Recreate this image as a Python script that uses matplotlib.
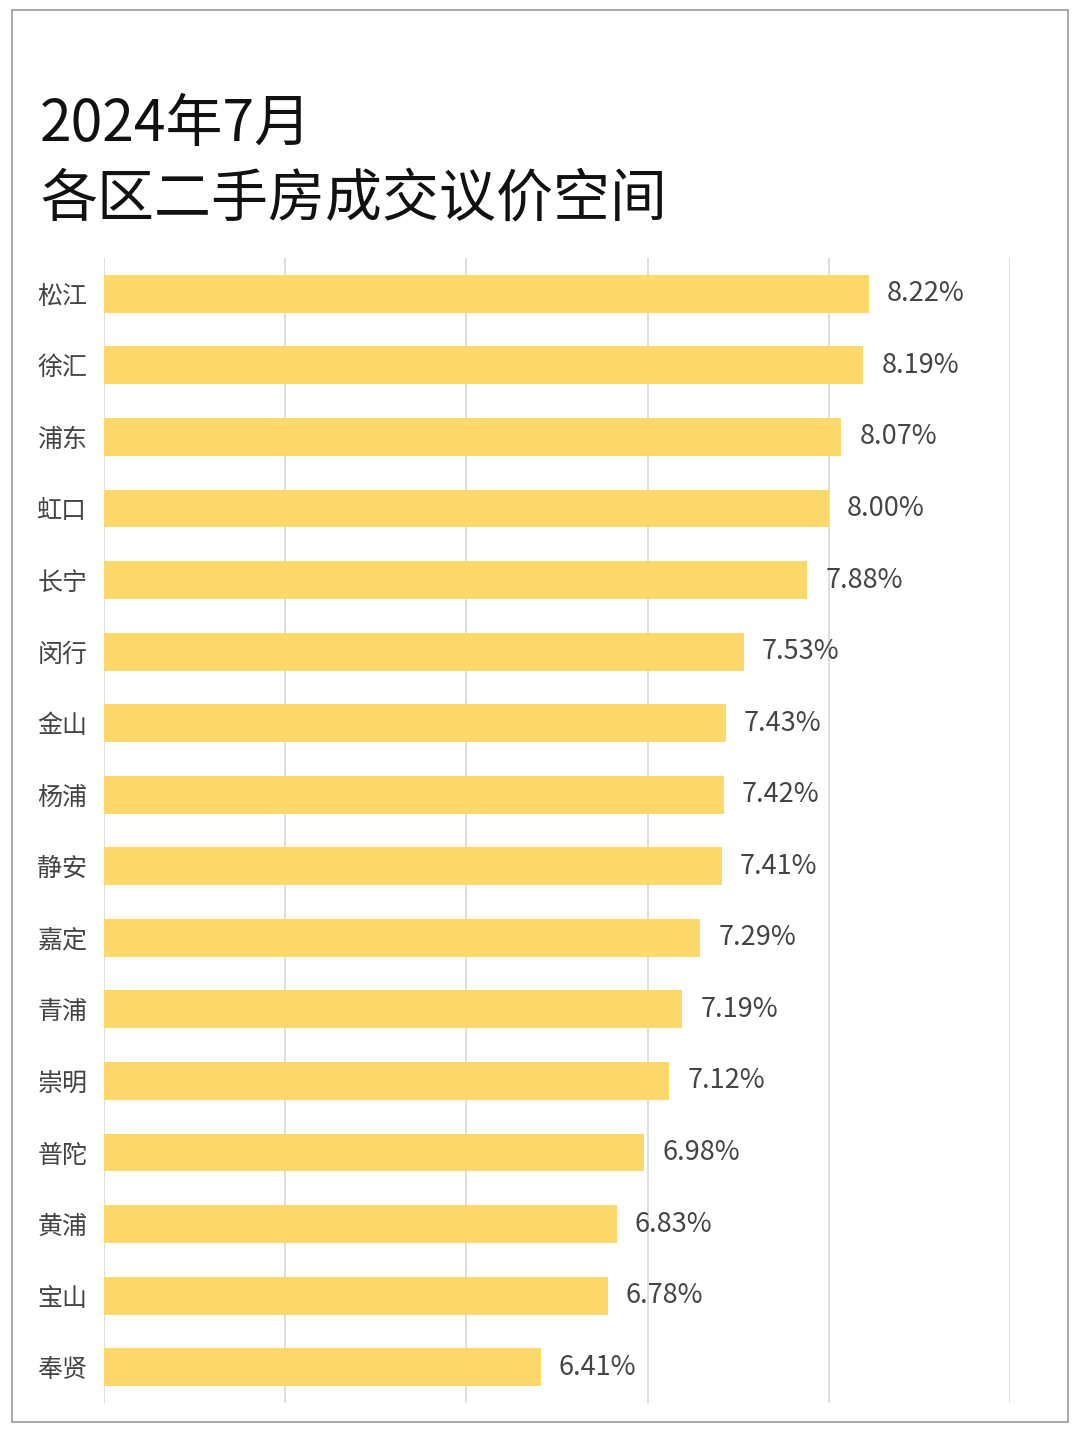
import matplotlib
matplotlib.use("Agg")
import matplotlib.pyplot as plt
from matplotlib.patches import Rectangle

districts = ["松江","徐汇","浦东","虹口","长宁","闵行","金山","杨浦","静安","嘉定","青浦","崇明","普陀","黄浦","宝山","奉贤"]
values = [8.22,8.19,8.07,8.00,7.88,7.53,7.43,7.42,7.41,7.29,7.19,7.12,6.98,6.83,6.78,6.41]
labels = ["8.22%","8.19%","8.07%","8.00%","7.88%","7.53%","7.43%","7.42%","7.41%","7.29%","7.19%","7.12%","6.98%","6.83%","6.78%","6.41%"]

plt.rcParams["font.family"] = ["Noto Sans CJK SC", "DejaVu Sans"]
fig = plt.figure(figsize=(10.8, 14.4), dpi=100)
fig.patches.append(Rectangle((12/1080, 18/1440), 1056/1080, 1412/1440, transform=fig.transFigure,
                             fill=False, edgecolor="#999999", lw=1.2))
fig.text(40/1080, 1-125/1440, "2024年7月", fontsize=41, va="center", ha="left", color="#111111")
fig.text(40/1080, 1-200/1440, "各区二手房成交议价空间", fontsize=41, va="center", ha="left", color="#111111")

ax = fig.add_axes([104/1080, 37/1440, 906/1080, 1145/1440])
y = list(range(len(districts)))
ax.barh(y, [v - 4 for v in values], left=4, height=0.53, color="#FDD86A", zorder=2)
ax.set_xlim(4, 9)
ax.set_ylim(len(districts) - 0.5, -0.5)
ax.set_xticks([4,5,6,7,8,9])
ax.set_xticklabels([])
ax.tick_params(length=0)
ax.grid(axis="x", color="#d8d8d8", lw=1.2, zorder=0)
for s in ax.spines.values():
    s.set_visible(False)
ax.set_yticks(y)
ax.set_yticklabels(districts, fontsize=18, color="#444444")
ax.tick_params(axis="y", pad=12)
for i, (v, l) in enumerate(zip(values, labels)):
    ax.text(v + 0.1, i, l, va="center", ha="left", fontsize=19.5, color="#444444")
fig.savefig("out.png", dpi=100, facecolor="white")
